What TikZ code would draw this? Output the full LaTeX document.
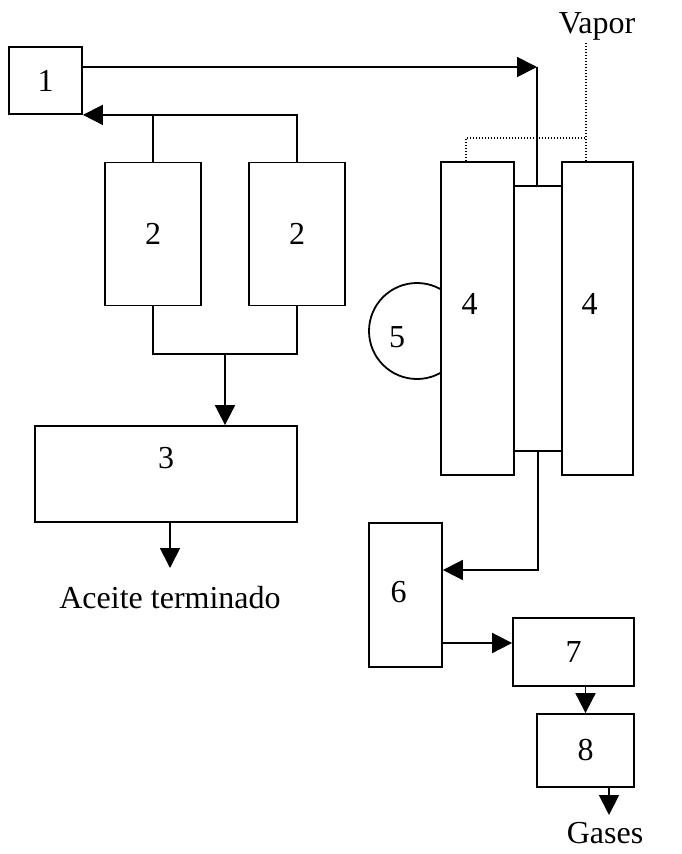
\documentclass[tikz,border=0pt]{standalone}
\usepackage{fontspec}
\setmainfont{Liberation Serif}
\usetikzlibrary{arrows.meta}

\begin{document}
\begin{tikzpicture}[x=1pt,y=-1pt,
  box/.style={draw, line width=1.8pt, fill=white, inner sep=0pt},
  pipe/.style={line width=1.8pt},
  flow/.style={pipe, -{Triangle[length=20pt,width=20pt]}},
  steam/.style={line width=1.4pt, dash pattern=on 1.4pt off 1.6pt},
  font=\fontsize{32}{38}\selectfont]
\useasboundingbox (0,0) rectangle (682,854);

% left line: 1, 2, 2, 3
\node[box, minimum width=73, minimum height=67] (b1) at (45.5,80.5) {1};
\node[box, minimum width=96, minimum height=143] (b2a) at (153,234) {2};
\node[box, minimum width=96, minimum height=143] (b2b) at (297,234) {2};
\node[box, minimum width=262, minimum height=96] (b3) at (166,474) {};
\node (t3) at ([yshift=16pt]b3.center) {3};

% column with the two 4's and 5 on its side
\node[draw, circle, line width=1.8pt, minimum size=96, inner sep=0pt] (c5) at (417,331) {};
\node (t5) at (397,337) {5};
\node[box, minimum width=73, minimum height=313] (b4a) at (477.5,318.5) {};
\node[box, minimum width=48, minimum height=265] (mid) at (538,318.5) {};
\node[box, minimum width=71, minimum height=313] (b4b) at (597.5,318.5) {};
\node (t4a) at ([xshift=-8pt,yshift=15pt]b4a.center) {4};
\node (t4b) at ([xshift=-8pt,yshift=15pt]b4b.center) {4};

% 6, 7, 8
\node[box, minimum width=73, minimum height=144] (b6) at (405.5,595) {};
\node (t6) at ([xshift=-7pt,yshift=3pt]b6.center) {6};
\node[box, minimum width=121, minimum height=68] (b7) at (573.5,652) {7};
\node[box, minimum width=97, minimum height=73] (b8) at (585.5,750.5) {8};

% outlets
\node[anchor=base] (vapor) at (597,33) {Vapor};
\node[anchor=base] (aceite) at (170,608) {Aceite terminado};
\node[anchor=base] (gases) at (605,843) {Gases};
\coordinate (cin) at (537,67);
\coordinate (jn) at (225,354);
\coordinate (oil) at (170,568);
\coordinate (vap) at (586,42);
\coordinate (vl) at (466,138);
\coordinate (gas) at (609,815);

\draw[flow] (b1.east |- cin) -- (cin);
\draw[pipe] (cin) -- (cin |- mid.north);
\draw[flow] (b2b.north) |- (b1.south east);
\draw[pipe] (b2a.north) -- (b2a.north |- b1.south);
\draw[pipe] (b2a.south) |- (jn) -| (b2b.south);
\draw[flow] (jn) -- (jn |- b3.north);
\draw[flow] (oil |- b3.south) -- (oil);

\draw[steam] (vl |- b4a.north) -- (vl) -- (vl -| vap);
\draw[steam] (vap |- b4b.north) -- (vap);

\draw[flow] (mid.south) |- ([yshift=25pt]b6.east);
\draw[flow] ([yshift=-48pt]b6.east) -- ([yshift=-48pt]b6.east -| b7.west);
\draw[flow] (b7.south -| b8.north) -- (b8.north);
\draw[flow] (gas |- b8.south) -- (gas);
\end{tikzpicture}
\end{document}
